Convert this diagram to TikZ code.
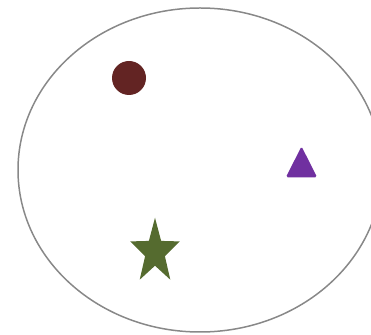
\documentclass[tikz,border=0pt]{standalone}
\usetikzlibrary{shapes.geometric}
\definecolor{dotred}{HTML}{632423}
\definecolor{tripurple}{HTML}{7030A0}
\definecolor{starolive}{HTML}{556B2F}
\begin{document}
\begin{tikzpicture}[every node/.style={inner sep=0pt, outer sep=0pt}]
  \tikzset{ring/.style={draw={rgb,255:red,136;green,136;blue,136}, line width=0.85pt}}
  \tikzset{dotmark/.style={circle, minimum size=0.68cm, fill=dotred}}
  \tikzset{trimark/.style={regular polygon, regular polygon sides=3, minimum size=0.72cm, fill=tripurple, rounded corners=1pt}}
  \tikzset{starmark/.style={star, star points=5, star point ratio=2.5, minimum size=1.37cm, fill=starolive}}
  \useasboundingbox (0,0) rectangle (7.42,6.70);
  % outline
  \draw[ring] (4.00,3.30) ellipse [x radius=3.64cm, y radius=3.24cm];
  % marks
  \node[dotmark] (dot) at (2.58,5.14) {};
  \node[trimark, yscale=1.15] (tri) at (6.03,3.36) {};
  \node[starmark, xscale=0.76] (starm) at (3.10,1.66) {};
\end{tikzpicture}
\end{document}
